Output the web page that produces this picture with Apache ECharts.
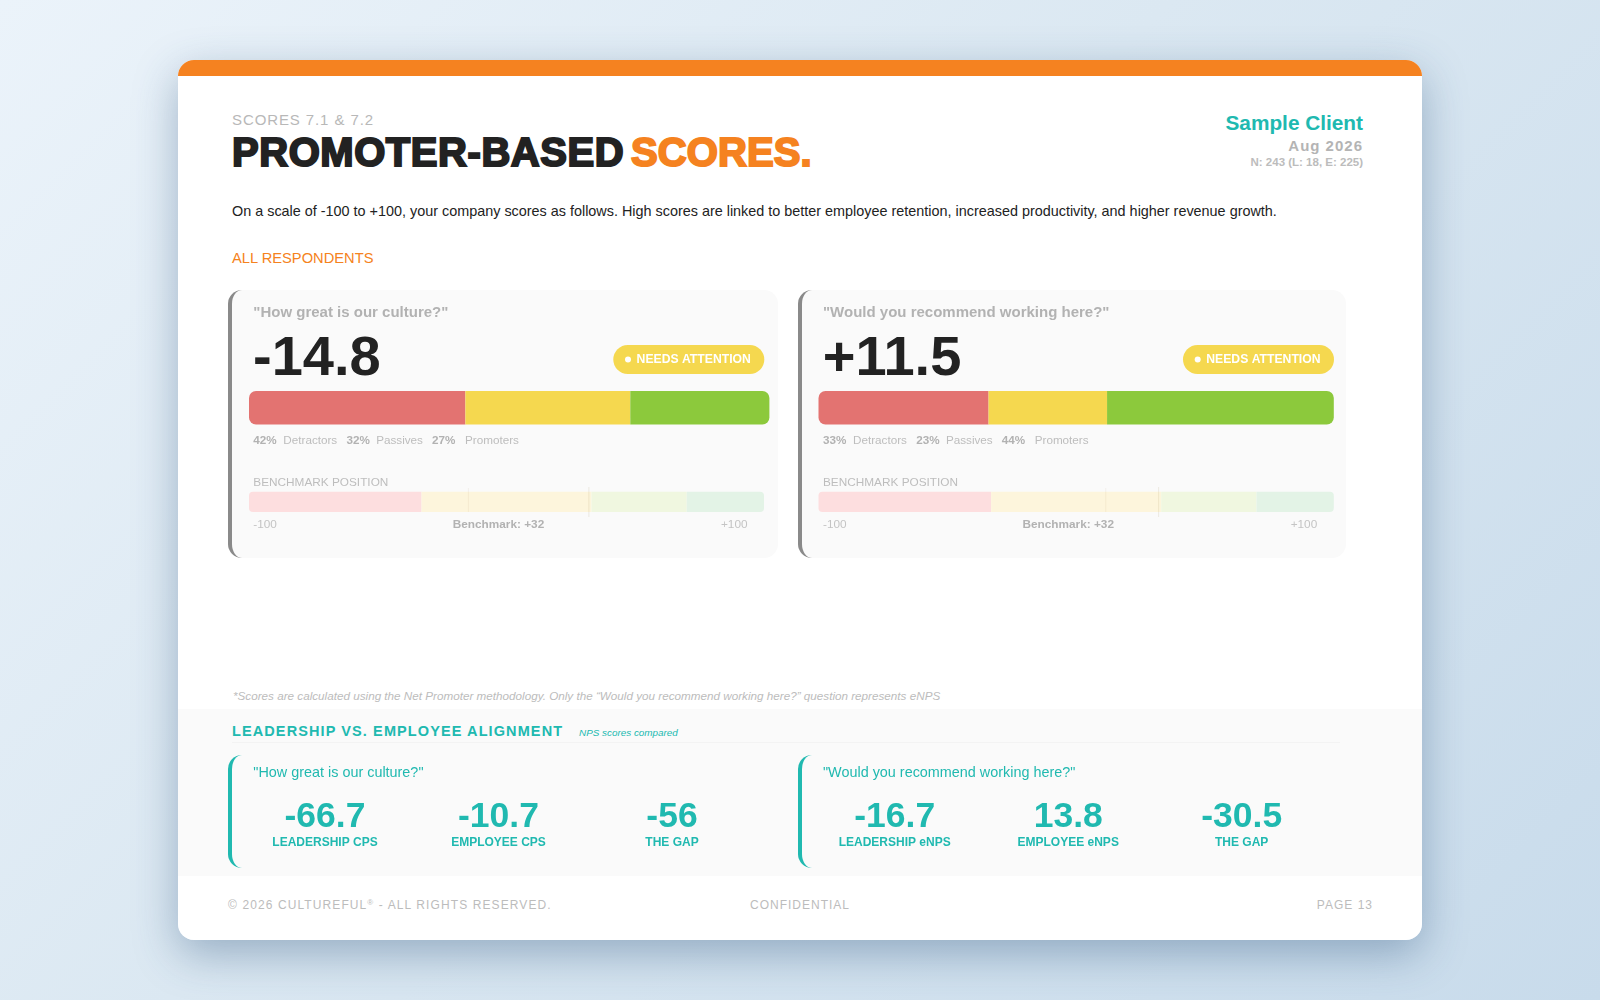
<!DOCTYPE html>
<html>
<head>
<meta charset="utf-8">
<title>Promoter-based scores</title>
<script src="https://cdn.jsdelivr.net/npm/echarts@6/dist/echarts.min.js"></script>
<style>
html,body{margin:0;padding:0;width:1600px;height:1000px;overflow:hidden;font-family:"Liberation Sans",Helvetica,Arial,sans-serif;}
body{background:linear-gradient(135deg,#ebf3fa 0%,#dbe8f2 45%,#c8dbeb 100%);position:relative;}
.page{position:absolute;left:178px;top:60px;width:1244px;height:880px;background:#fff;border-radius:16px;overflow:hidden;}
.shadow{position:absolute;left:178px;top:60px;width:1244px;height:880px;border-radius:16px;box-shadow:0 14px 44px rgba(40,80,120,.38);}
.strip{position:absolute;left:0;top:0;width:100%;height:16px;background:#f58220;}
.band{position:absolute;left:0;top:649px;width:100%;height:167px;background:#fafafa;}
.abs{position:absolute;white-space:nowrap;line-height:1;}
.card{position:absolute;top:290px;height:268px;box-sizing:border-box;background:#fafafa;border-left:4px solid #8a8a8a;border-radius:14px;}
.bracket{position:absolute;top:755px;height:113px;width:60px;box-sizing:border-box;border-left:4px solid #20b9b0;border-radius:14px 0 0 14px;}
.rule{position:absolute;left:232px;top:742px;width:1108px;height:1px;background:#f3f3f3;}
#chart{position:absolute;left:0;top:0;width:1600px;height:1000px;}
sup{font-size:8px;vertical-align:4px;line-height:0;}
</style>
</head>
<body>
<div class="shadow"></div>
<div class="page"><div class="strip"></div><div class="band"></div></div>
<div class="rule"></div>
<div class="card" style="left:228px;width:549.5px"></div>
<div class="card" style="left:798px;width:548px"></div>
<div class="bracket" style="left:228px"></div>
<div class="bracket" style="left:798px"></div>

<div class="abs" style="left:232px;top:111.5px;font-size:15px;letter-spacing:.9px;color:#b8b8b8">SCORES 7.1 &amp; 7.2</div>
<div class="abs" style="left:232px;top:132px;font-size:40px;font-weight:bold;letter-spacing:.55px;-webkit-text-stroke:2px #222;color:#222">PROMOTER-BASED</div>
<div class="abs" style="left:631px;top:132px;font-size:40px;font-weight:bold;letter-spacing:.1px;-webkit-text-stroke:2px #f58220;color:#f58220">SCORES.</div>
<div class="abs" style="right:237px;top:112.5px;font-size:20.8px;font-weight:bold;color:#20b9b0">Sample Client</div>
<div class="abs" style="right:237px;top:137.5px;font-size:15px;font-weight:bold;letter-spacing:1px;color:#b4b4b4">Aug 2026</div>
<div class="abs" style="right:237px;top:157px;font-size:11.5px;font-weight:bold;color:#bcbcbc">N: 243 (L: 18, E: 225)</div>
<div class="abs" style="left:232px;top:204px;font-size:14.4px;color:#222">On a scale of -100 to +100, your company scores as follows. High scores are linked to better employee retention, increased productivity, and higher revenue growth.</div>
<div class="abs" style="left:232px;top:251px;font-size:14.7px;color:#f58220">ALL RESPONDENTS</div>
<div class="abs" style="left:233px;top:690px;font-size:11.7px;font-style:italic;color:#bcbcbc">*Scores are calculated using the Net Promoter methodology. Only the “Would you recommend working here?” question represents eNPS</div>
<div class="abs" style="left:232px;top:724px;font-size:14.5px;font-weight:bold;letter-spacing:1.1px;color:#20b9b0">LEADERSHIP VS. EMPLOYEE ALIGNMENT</div>
<div class="abs" style="left:579px;top:728px;font-size:9.9px;font-style:italic;color:#20b9b0">NPS scores compared</div>
<div class="abs" style="left:228px;top:899px;font-size:12px;letter-spacing:1.1px;color:#bcbcbc">© 2026 CULTUREFUL<sup>®</sup> - ALL RIGHTS RESERVED.</div>
<div class="abs" style="left:750px;top:899px;font-size:12px;letter-spacing:1px;color:#bcbcbc">CONFIDENTIAL</div>
<div class="abs" style="right:227px;top:899px;font-size:12px;letter-spacing:1px;color:#bcbcbc">PAGE 13</div>

<div id="chart"></div>
<script>
// data
var questions = ['"How great is our culture?"', '"Would you recommend working here?"'];
var scoreLabels = ['-14.8', '+11.5'];
var scores = [-14.8, 11.5];
var detractors = [42, 33];
var passives = [32, 23];
var promoters = [27, 44];
var statusText = 'NEEDS ATTENTION';
var benchmark = 32;
var zoneEdges = [-100, -33, 33, 70, 100];
var leadershipLabels = ['LEADERSHIP CPS', 'LEADERSHIP eNPS'];
var employeeLabels = ['EMPLOYEE CPS', 'EMPLOYEE eNPS'];
var gapLabel = 'THE GAP';
var leadershipScores = ['-66.7', '-16.7'];
var employeeScores = ['-10.7', '13.8'];
var gapScores = ['-56', '-30.5'];

var RED = '#e37371', YELLOW = '#f5d84f', GREEN = '#8cc93c', TEAL = '#20b9b0';
var ZONE_COLORS = ['#fddedf', '#fdf5dc', '#f0f7e0', '#e3f3e6'];
var FONT = '"Liberation Sans", Helvetica, Arial, sans-serif';

// bar geometry per card
var mainBars = [{left: 249, width: 520.4}, {left: 818.5, width: 515.3}];
var benchBars = [{left: 249, width: 515}, {left: 818.5, width: 515.3}];
var cardShift = [0, 569.7];

var chart = echarts.init(document.getElementById('chart'), null, {renderer: 'canvas'});
var grids = [], xAxes = [], yAxes = [], series = [], graphics = [];

function addText(x, y, str, size, color, bold, align) {
	graphics.push({
		type: 'text', silent: true, x: x, y: y,
		style: {
			text: str, fill: color, textAlign: align || 'left', textVerticalAlign: 'middle',
			font: (bold ? 'bold ' : '') + size + 'px ' + FONT
		}
	});
}

function addGrid(box, top, height, min, max) {
	grids.push({left: box.left, width: box.width, top: top, height: height});
	var idx = grids.length - 1;
	xAxes.push({type: 'value', gridIndex: idx, min: min, max: max, show: false});
	return idx;
}

//堆叠条
function addMainBar(i) {
	var idx = addGrid(mainBars[i], 391, 33.5, 0, detractors[i] + passives[i] + promoters[i]);
	yAxes.push({type: 'category', gridIndex: idx, data: ['Score'], show: false});
	var parts = [
		{name: 'Detractors', data: detractors[i], color: RED, r: [7, 0, 0, 7]},
		{name: 'Passives', data: passives[i], color: YELLOW, r: 0},
		{name: 'Promoters', data: promoters[i], color: GREEN, r: [0, 7, 7, 0]}
	];
	parts.forEach(function(p) {
		series.push({
			name: p.name, type: 'bar', stack: 'main' + i, xAxisIndex: idx, yAxisIndex: idx,
			barWidth: '100%', silent: true, data: [p.data],
			itemStyle: {color: p.color, borderRadius: p.r}
		});
	});
}

//基准条
function addBenchBar(i) {
	var idx = addGrid(benchBars[i], 487, 30, -100, 100);
	yAxes.push({type: 'value', gridIndex: idx, min: 0, max: 30, inverse: true, show: false});
	var zones = [];
	for (var z = 0; z < zoneEdges.length - 1; z++) {
		zones.push([zoneEdges[z], zoneEdges[z + 1], z]);
	}
	series.push({
		type: 'custom', xAxisIndex: idx, yAxisIndex: idx, silent: true, clip: false, data: zones,
		renderItem: function(params, api) {
			var a = api.coord([api.value(0), 4.7]);
			var b = api.coord([api.value(1), 25]);
			var z = api.value(2);
			var r = z === 0 ? [4, 0, 0, 4] : (z === zones.length - 1 ? [0, 4, 4, 0] : 0);
			return {
				type: 'rect',
				shape: {x: a[0], y: a[1], width: b[0] - a[0], height: b[1] - a[1], r: r},
				style: {fill: ZONE_COLORS[z]}
			};
		}
	});
	series.push({
		type: 'custom', xAxisIndex: idx, yAxisIndex: idx, silent: true, clip: false,
		data: [[scores[i], 1, 25, 0.08], [benchmark, 0, 30, 0.13]],
		renderItem: function(params, api) {
			var a = api.coord([api.value(0), api.value(1)]);
			var b = api.coord([api.value(0), api.value(2)]);
			return {
				type: 'line',
				shape: {x1: a[0], y1: a[1], x2: b[0], y2: b[1]},
				style: {stroke: 'rgb(150,120,60)', opacity: api.value(3), lineWidth: 1}
			};
		}
	});
}

//卡片文字
function addCardText(i) {
	var s = cardShift[i];
	addText(253.3 + s, 313, questions[i], 15, '#b2b2b2', true);
	addText(253 + s, 360, scoreLabels[i], 56, '#222222', true);

	var pillX = [613.3, 1183][i];
	graphics.push({
		type: 'rect', silent: true,
		shape: {x: pillX, y: 345, width: 151, height: 29, r: 14.5},
		style: {fill: YELLOW}
	});
	graphics.push({
		type: 'circle', silent: true,
		shape: {cx: pillX + 14.7, cy: 359.5, r: 3},
		style: {fill: '#ffffff'}
	});
	addText(pillX + 23.3, 359.5, statusText, 12.2, '#ffffff', true);

	addText(253.3 + s, 441, detractors[i] + '%', 11.7, '#b2b2b2', true);
	addText(283.3 + s, 441, 'Detractors', 11.7, '#bdbdbd');
	addText(346.5 + s, 441, passives[i] + '%', 11.7, '#b2b2b2', true);
	addText(376.2 + s, 441, 'Passives', 11.7, '#bdbdbd');
	addText(432 + s, 441, promoters[i] + '%', 11.7, '#b2b2b2', true);
	addText(465 + s, 441, 'Promoters', 11.7, '#bdbdbd');

	addText(253.3 + s, 483, 'BENCHMARK POSITION', 11.8, '#bdbdbd');
	addText(253.3 + s, 525, '-100', 11.8, '#c4c4c4');
	addText(498.5 + s, 525, 'Benchmark: +' + benchmark, 11.8, '#b2b2b2', true, 'center');
	addText(747.5 + s, 525, '+100', 11.8, '#c4c4c4', false, 'right');

	addText(253.3 + s, 773.5, questions[i], 14.4, TEAL);
	var cols = [325, 498.5, 672];
	var vals = [leadershipScores[i], employeeScores[i], gapScores[i]];
	var labs = [leadershipLabels[i], employeeLabels[i], gapLabel];
	for (var c = 0; c < 3; c++) {
		addText(cols[c] + s, 817, vals[c], 35.5, TEAL, true, 'center');
		addText(cols[c] + s, 842.5, labs[c], 12, TEAL, true, 'center');
	}
}

for (var i = 0; i < 2; i++) {
	addMainBar(i);
	addBenchBar(i);
	addCardText(i);
}

chart.setOption({
	animation: false,
	backgroundColor: 'transparent',
	grid: grids,
	xAxis: xAxes,
	yAxis: yAxes,
	series: series,
	graphic: {elements: graphics}
});
</script>
</body>
</html>
